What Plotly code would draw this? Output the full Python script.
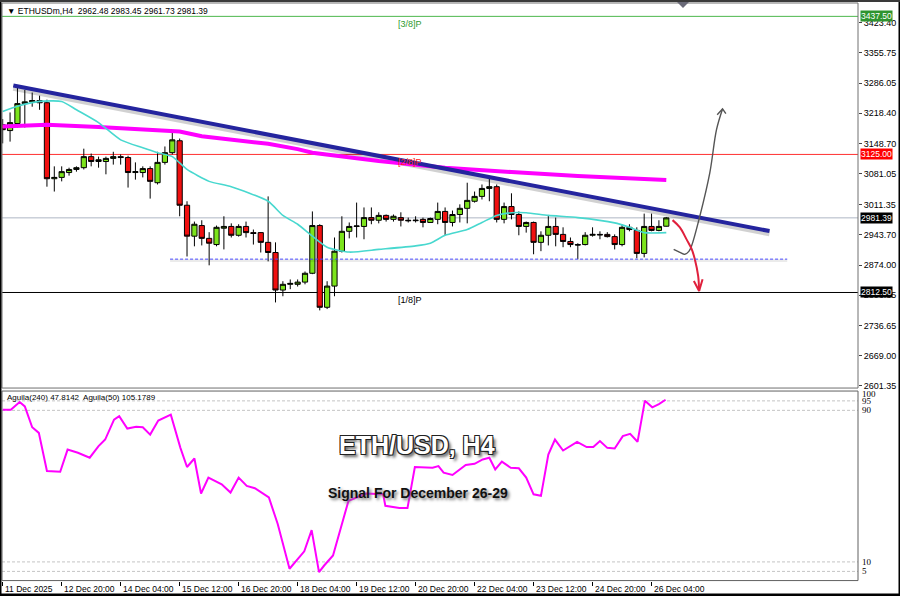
import plotly.graph_objects as go

W, H = 900, 599

# ---------------- data ----------------
bar_idx = list(range(91))
opens = [3192, 3179, 3195, 3240, 3244, 3247, 3242, 3070, 3073, 3084,
         3091, 3095, 3120, 3109, 3109, 3116, 3120, 3118, 3084, 3084,
         3093, 3061, 3107, 3129, 3156, 3010, 2940, 2964, 2935, 2921,
         2958, 2962, 2942, 2962, 2948, 2948, 2926, 2903, 2818, 2831,
         2831, 2836, 2856, 2964, 2779, 2827, 2906, 2951, 2962, 2962,
         2982, 2976, 2987, 2978, 2982, 2976, 2975, 2978, 2971, 2978,
         2996, 2971, 2989, 3003, 3019, 3030, 3048, 3052, 2978, 3007,
         2989, 2962, 2971, 2926, 2942, 2962, 2944, 2928, 2921, 2921,
         2942, 2944, 2944, 2939, 2921, 2960, 2953, 2901, 2962, 2953,
         2962.48]
highs = [3205, 3220, 3276, 3271, 3265, 3258, 3249, 3098, 3098, 3095,
         3098, 3138, 3127, 3120, 3120, 3131, 3125, 3122, 3107, 3098,
         3098, 3131, 3143, 3179, 3161, 3019, 2973, 2976, 2949, 2964,
         2985, 2969, 2967, 2973, 2955, 2949, 3030, 2926, 2838, 2842,
         2842, 2860, 2996, 2967, 2838, 2937, 2985, 2971, 3016, 3005,
         3005, 2994, 2989, 2989, 2994, 2982, 2985, 2982, 2982, 3016,
         3005, 2998, 3012, 3061, 3041, 3057, 3070, 3057, 3016, 3037,
         2996, 2973, 2973, 2951, 2987, 2982, 2960, 2937, 2924, 2949,
         2960, 2951, 2949, 2944, 2967, 2967, 2960, 2991, 2991, 2976,
         2983.45]
lows = [3150, 3154, 3186, 3186, 3233, 3226, 3052, 3041, 3064, 3077,
        3086, 3091, 3098, 3095, 3080, 3102, 3102, 3050, 3068, 3073,
        3025, 3057, 3102, 3125, 2985, 2894, 2917, 2919, 2874, 2917,
        2910, 2937, 2939, 2937, 2921, 2903, 2883, 2790, 2804, 2820,
        2826, 2831, 2854, 2772, 2775, 2804, 2903, 2935, 2937, 2933,
        2967, 2969, 2973, 2973, 2962, 2971, 2971, 2960, 2971, 2967,
        2942, 2962, 2971, 2969, 3016, 3023, 3019, 2971, 2969, 2978,
        2942, 2948, 2899, 2906, 2919, 2917, 2915, 2915, 2888, 2919,
        2939, 2933, 2937, 2910, 2917, 2951, 2890, 2892, 2951, 2951,
        2961.73]
closes = [3181, 3197, 3240, 3244, 3247, 3242, 3070, 3073, 3086, 3091,
          3095, 3120, 3109, 3113, 3116, 3120, 3118, 3084, 3086, 3093,
          3064, 3107, 3129, 3158, 3010, 2940, 2967, 2935, 2924, 2960,
          2962, 2942, 2962, 2948, 2946, 2926, 2903, 2818, 2831, 2833,
          2836, 2856, 2964, 2779, 2827, 2906, 2951, 2962, 2963, 2982,
          2976, 2987, 2978, 2985, 2976, 2975, 2976, 2971, 2980, 2996,
          2971, 2989, 3003, 3021, 3030, 3048, 3052, 2978, 3007, 2989,
          2962, 2971, 2926, 2942, 2962, 2944, 2928, 2921, 2920, 2942,
          2944, 2943, 2939, 2921, 2960, 2955, 2901, 2962, 2953, 2962,
          2981.39]

# fast moving average (cyan)
ma_fast_x = [0, 2, 5, 8, 10, 13, 16, 19, 21, 23, 25, 28, 31, 36, 38, 40, 42,
             44, 47, 51, 56, 58, 60, 63, 65, 67, 69, 71, 74, 78, 83, 85, 87, 90]
ma_fast_y = [3222, 3234, 3245, 3245, 3226, 3197, 3158, 3140, 3129, 3120, 3091,
             3064, 3052, 3019, 2987, 2967, 2940, 2915, 2904, 2910, 2918, 2924,
             2942, 2955, 2971, 2987, 2993, 2993, 2987, 2982, 2970, 2960, 2948, 2948]

# slow moving average (magenta)
ma_slow_x = [0, 6, 13, 21, 24, 27, 31, 36, 40, 42, 51, 60, 69, 78, 90]
ma_slow_y = [3188, 3192, 3187, 3181, 3177, 3166, 3158, 3149, 3137, 3129,
             3110, 3095, 3085, 3076, 3067]

# descending trend line
trend_x = [1.44, 104.0]
trend_y = [3281.0, 2951.5]

# support line (dashed blue)
support_x = [22.7, 106.4]
support_y = [2888.0, 2888.0]

# horizontal levels
lvl_green = 3437.50
lvl_red = 3125.00
lvl_last = 2981.39
lvl_black = 2812.50

# arrows
arrow_dn_x = [90.85, 91.84, 92.75, 93.46, 93.87, 94.32, 94.45]
arrow_dn_y = [2976.3, 2959.8, 2932.7, 2910.2, 2887.6, 2849.9, 2816.0]
arrow_dn_head_x = [93.74, 94.45, 94.92]
arrow_dn_head_y = [2838.6, 2816.0, 2842.4]
arrow_up_x = [91.0, 91.84, 92.51, 93.06, 93.42, 94.55, 95.9, 96.81, 97.63]
arrow_up_y = [2910.2, 2903.4, 2898.9, 2905.6, 2917.6, 2985.3, 3083.3, 3181.1, 3227.9]
arrow_up_head_x = [96.9, 97.63, 98.08]
arrow_up_head_y = [3215.0, 3227.9, 3217.2]

# oscillator (Aguila)
ind_x = [0, 1.1, 2.3, 3, 4, 4.9, 6, 7.8, 8.8, 10.2, 11.8, 13, 13.9, 15.1, 15.8,
         16.9, 18.1, 19, 20, 21.1, 22.8, 24.1, 25, 26, 26.9, 27.9, 29.7, 30.9,
         32, 33.1, 34.2, 36.1, 37.3, 38.9, 40.9, 41.9, 42.9, 43.6, 44.8, 46.9,
         49.3, 51.6, 51.9, 53.8, 54.9, 55.9, 58.3, 59.1, 59.8, 61, 62.8, 64,
         65.1, 66, 66.8, 67.7, 68.9, 70, 71, 72, 73, 74, 74.9, 76, 77.9, 79.2,
         80.1, 81, 82, 83, 84.1, 85.1, 86.1, 87.1, 88.1, 89, 89.9]
ind_y = [90.3, 90.3, 94.4, 92.1, 81.1, 78.1, 58.0, 57.6, 69.3, 67.6, 65.0, 71.1,
         74.6, 85.1, 86.9, 80.4, 81.3, 81.1, 77.2, 84.6, 87.7, 70.2, 60.1, 64.6,
         46.1, 54.5, 51.0, 46.6, 54.5, 50.1, 48.9, 44.0, 30.0, 6.4, 15.6, 26.8,
         4.6, 8.1, 13.4, 42.3, 46.1, 45.7, 39.6, 38.4, 38.4, 60.1, 59.7, 60.6,
         57.1, 55.9, 61.2, 61.8, 64.1, 65.0, 58.8, 62.9, 59.7, 59.4, 54.5, 45.7,
         44.9, 66.7, 74.6, 68.8, 73.4, 70.6, 70.6, 73.8, 70.2, 69.9, 76.4, 77.6,
         73.4, 95.1, 91.6, 93.3, 95.6]
ind_levels = [95, 90, 10, 5]
ind_label_vals = [100, 95, 90, 10, 5, 0]
ind_label_text = ["100", "95", "90", "10", "5", "0"]
ind_label_shift = [-3, 0, 0, 0, 0, 6]

# axis ticks
x_tick_idx = [0, 8, 16, 24, 32, 40, 48, 56, 64, 72, 80, 88]
x_tick_labels = ["11 Dec 2025", "12 Dec 20:00", "14 Dec 04:00", "15 Dec 12:00",
                 "16 Dec 20:00", "18 Dec 04:00", "19 Dec 12:00", "20 Dec 20:00",
                 "22 Dec 04:00", "23 Dec 12:00", "24 Dec 20:00", "26 Dec 04:00"]
price_ticks = [3423.40, 3355.75, 3286.05, 3218.40, 3148.70, 3081.05, 3011.35,
               2943.70, 2874.00, 2806.35, 2736.65, 2669.00, 2601.35]
price_tick_labels = ["%.2f" % v for v in price_ticks]

header_text = "\u25BC ETHUSDm,H4  2962.48 2983.45 2961.73 2981.39"
ind_header = "Aguila(240) 47.8142  Aguila(50) 105.1789"


# ---------------- helpers ----------------
def px(xp):
    return xp / W


def py(yp):
    return 1 - yp / H


FONT = "Liberation Sans"

fig = go.Figure()

# trend line shadow + support shadow
fig.add_trace(go.Scatter(x=trend_x, y=[v - 5 for v in trend_y], mode="lines",
                         line=dict(color="rgba(0,0,0,0.18)", width=6),
                         xaxis="x", yaxis="y", hoverinfo="skip"))
fig.add_trace(go.Scatter(x=support_x, y=[v - 3 for v in support_y], mode="lines",
                         line=dict(color="rgba(0,0,0,0.08)", width=3),
                         xaxis="x", yaxis="y", hoverinfo="skip"))

# moving averages
fig.add_trace(go.Scatter(x=ma_slow_x, y=ma_slow_y, mode="lines",
                         line=dict(color="#FF00FF", width=4),
                         xaxis="x", yaxis="y", hoverinfo="skip"))
fig.add_trace(go.Scatter(x=ma_fast_x, y=ma_fast_y, mode="lines",
                         line=dict(color="#48D8CF", width=1.6, shape="spline", smoothing=0.6),
                         xaxis="x", yaxis="y", hoverinfo="skip"))

# candles
fig.add_trace(go.Candlestick(
    x=bar_idx, open=opens, high=highs, low=lows, close=closes,
    increasing=dict(line=dict(color="#000000", width=1), fillcolor="#7CE41C"),
    decreasing=dict(line=dict(color="#000000", width=1), fillcolor="#F01010"),
    whiskerwidth=0, xaxis="x", yaxis="y", hoverinfo="skip"))

# trend line
fig.add_trace(go.Scatter(x=trend_x, y=trend_y, mode="lines",
                         line=dict(color="#24249E", width=4),
                         xaxis="x", yaxis="y", hoverinfo="skip"))

# arrows
fig.add_trace(go.Scatter(x=arrow_up_x, y=arrow_up_y, mode="lines",
                         line=dict(color="#555555", width=1.4, shape="spline"),
                         xaxis="x", yaxis="y", hoverinfo="skip"))
fig.add_trace(go.Scatter(x=arrow_up_head_x, y=arrow_up_head_y, mode="lines",
                         line=dict(color="#555555", width=1.4),
                         xaxis="x", yaxis="y", hoverinfo="skip"))
fig.add_trace(go.Scatter(x=arrow_dn_x, y=arrow_dn_y, mode="lines",
                         line=dict(color="#E0203C", width=2, shape="spline"),
                         xaxis="x", yaxis="y", hoverinfo="skip"))
fig.add_trace(go.Scatter(x=arrow_dn_head_x, y=arrow_dn_head_y, mode="lines",
                         line=dict(color="#E0203C", width=2),
                         xaxis="x", yaxis="y", hoverinfo="skip"))

# oscillator
fig.add_trace(go.Scatter(x=ind_x, y=ind_y, mode="lines",
                         line=dict(color="#FF00FF", width=2),
                         xaxis="x2", yaxis="y2", hoverinfo="skip"))

shapes = []
for val, col in [(lvl_green, "#4DB84D"), (lvl_red, "#FF3030"),
                 (lvl_last, "#AEB6C4"), (lvl_black, "#000000")]:
    shapes.append(dict(type="line", xref="x domain", yref="y", x0=0, x1=1,
                       y0=val, y1=val, line=dict(color=col, width=1), layer="below"))
shapes.append(dict(type="line", xref="x", yref="y", x0=support_x[0], x1=support_x[1],
                   y0=support_y[0], y1=support_y[1],
                   line=dict(color="#4848FF", width=1, dash="3px,2px")))
for lv in ind_levels:
    shapes.append(dict(type="line", xref="x2 domain", yref="y2", x0=0, x1=1,
                       y0=lv, y1=lv, line=dict(color="#C4C4C4", width=1, dash="3px,2px"),
                       layer="below"))
shapes.append(dict(type="rect", xref="paper", yref="paper", x0=px(2), x1=px(858),
                   y0=py(390), y1=py(3), line=dict(color="#707070", width=1)))
shapes.append(dict(type="rect", xref="paper", yref="paper", x0=px(2), x1=px(858),
                   y0=py(583.5), y1=py(393), line=dict(color="#606060", width=1)))
shapes.append(dict(type="rect", xref="paper", yref="paper", x0=0, x1=px(1.5), y0=0, y1=1,
                   fillcolor="#000000", line=dict(width=0)))
shapes.append(dict(type="rect", xref="paper", yref="paper", x0=px(898.5), x1=1, y0=0, y1=1,
                   fillcolor="#000000", line=dict(width=0)))
shapes.append(dict(type="rect", xref="paper", yref="paper", x0=0, x1=1, y0=0, y1=py(596.5),
                   fillcolor="#000000", line=dict(width=0)))
shapes.append(dict(type="rect", xref="paper", yref="paper", x0=0, x1=1, y0=py(2), y1=1,
                   fillcolor="#3A3A3A", line=dict(width=0)))
shapes.append(dict(type="path", xref="paper", yref="paper",
                   path="M %f %f L %f %f L %f %f Z" % (px(677), py(2), px(689), py(2), px(683), py(8)),
                   fillcolor="#6A6A78", line=dict(width=0)))

annotations = []
annotations.append(dict(text=header_text, xref="paper", yref="paper", x=px(5), y=py(11),
                        xanchor="left", yanchor="middle", showarrow=False,
                        font=dict(family=FONT, size=8.5, color="#000000")))
annotations.append(dict(text=ind_header, xref="paper", yref="paper", x=px(5), y=py(400),
                        xanchor="left", yanchor="middle", showarrow=False,
                        font=dict(family=FONT, size=8, color="#000000")))
for txt, val, col in [("[3/8]P", lvl_green, "#2E9B2E"), ("[2/8]P", lvl_red, "#FF2020"),
                      ("[1/8]P", lvl_black, "#000000")]:
    annotations.append(dict(text=txt, xref="x", yref="y", x=53.3, y=val, xanchor="left",
                            yanchor="top", yshift=-1, showarrow=False,
                            font=dict(family=FONT, size=9, color=col)))
for val, bg in [(lvl_green, "#2E942E"), (lvl_red, "#FF0000"),
                (lvl_last, "#000000"), (lvl_black, "#000000")]:
    annotations.append(dict(text="%.2f" % val, xref="paper", yref="y", x=px(860), y=val,
                            xanchor="left", yanchor="middle", showarrow=False,
                            bgcolor=bg, borderpad=0,
                            font=dict(family=FONT, size=8.5, color="#FFFFFF")))
for v, t, s in zip(ind_label_vals, ind_label_text, ind_label_shift):
    annotations.append(dict(text=t, xref="paper", yref="y2", x=px(860), y=v, yshift=s,
                            xanchor="left", yanchor="middle", showarrow=False,
                            font=dict(family="Liberation Serif", size=9, color="#000000")))
for xi, t in zip(x_tick_idx, x_tick_labels):
    annotations.append(dict(text=t, xref="x2", yref="paper", x=xi, y=py(592),
                            xanchor="left", yanchor="middle", showarrow=False,
                            font=dict(family=FONT, size=8.5, color="#000000")))
annotations.append(dict(text="<b>ETH/USD, H4</b>", xref="paper", yref="paper",
                        x=px(417), y=py(447), xanchor="center", yanchor="middle",
                        showarrow=False,
                        font=dict(family=FONT, size=25, color="#FFFFFF",
                                  shadow="-1px -1px 0 #222, 1px -1px 0 #222, -1px 1px 0 #222, "
                                         "1px 1px 0 #222, 3px 3px 3px #666")))
annotations.append(dict(text="<b>Signal For December 26-29</b>", xref="paper", yref="paper",
                        x=px(418), y=py(495), xanchor="center", yanchor="middle",
                        showarrow=False,
                        font=dict(family=FONT, size=14, color="#111111",
                                  shadow="2px 2px 3px #777")))

xdom = [px(2), px(858)]
xrange = [-0.095, 116.0]

fig.update_layout(
    width=W, height=H, margin=dict(l=0, r=0, t=0, b=0, pad=0),
    paper_bgcolor="#FFFFFF", plot_bgcolor="#FFFFFF", showlegend=False,
    boxgap=0.12, boxgroupgap=0.2,
    shapes=shapes, annotations=annotations,
    xaxis=dict(domain=xdom, range=xrange, anchor="y", showticklabels=False,
               showgrid=False, zeroline=False, rangeslider=dict(visible=False), ticks=""),
    yaxis=dict(domain=[py(390), py(3)], range=[2596.2, 3467.8], anchor="x", side="right",
               tickvals=price_ticks, ticktext=price_tick_labels, ticks="outside",
               ticklen=3, tickcolor="#444444", showgrid=False, zeroline=False,
               tickfont=dict(family=FONT, size=9, color="#000000")),
    xaxis2=dict(domain=xdom, range=xrange, anchor="y2", tickvals=x_tick_idx,
                ticks="outside", ticklen=4, tickcolor="#000000", showticklabels=False,
                showgrid=False, zeroline=False),
    yaxis2=dict(domain=[py(583.5), py(393)], range=[0.15, 100.2], anchor="x2",
                side="right", showticklabels=False, showgrid=False, zeroline=False,
                ticks=""),
)

fig.write_html("out.html", config={"displayModeBar": False},
               post_script="document.body.style.margin='0';document.body.style.overflow='hidden';")
